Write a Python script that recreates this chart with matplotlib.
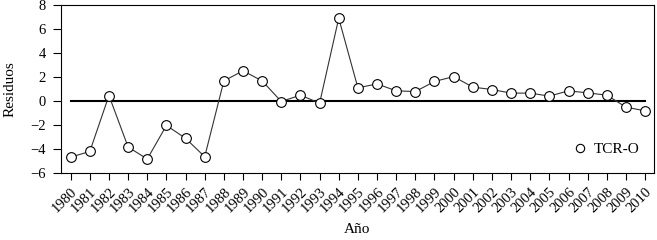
import matplotlib
matplotlib.use("Agg")
from matplotlib import pyplot as plt

plt.rcParams["font.family"] = "Liberation Serif"

years = list(range(1980, 2011))
residuos = [-4.67, -4.2, 0.47, -3.83, -4.83, -2.03, -3.1, -4.64, 1.69, 2.53,
            1.69, -0.03, 0.5, -0.17, 6.92, 1.11, 1.44, 0.86, 0.8, 1.64,
            2.05, 1.17, 0.97, 0.67, 0.67, 0.42, 0.86, 0.69, 0.5, -0.5,
            -0.81]

fig = plt.figure(figsize=(6.57, 2.4), dpi=100)
ax = fig.add_axes([0.093, 0.279, 0.902, 0.699])

ax.plot([years[0], years[-1]], [0, 0], color="black", lw=1.5, zorder=1)
ax.plot(years, residuos, color="#333333", lw=0.8, marker="o", markersize=7,
        markerfacecolor="white", markeredgecolor="black", markeredgewidth=0.8,
        label="TCR-O", zorder=2)

ax.set_xlim(1979.5, 2010.45)
ax.set_ylim(-6, 8)
ax.set_yticks(range(-6, 9, 2))
ax.set_yticklabels(["\u22126", "\u22124", "\u22122", "0", "2", "4", "6", "8"])
ax.set_xticks(years)
ax.set_xticklabels([str(y) for y in years], rotation=45, ha="right",
                   rotation_mode="anchor")
ax.tick_params(axis="both", labelsize=10.5, direction="out", width=0.8)
ax.tick_params(axis="y", length=6, pad=5)
ax.tick_params(axis="x", length=5, pad=4)
ax.set_ylabel("Residuos", fontsize=11, labelpad=10)
ax.set_xlabel("Año", fontsize=11, labelpad=5)

leg = ax.legend(loc="lower right", frameon=False, fontsize=11, handlelength=1,
                handletextpad=0.4, bbox_to_anchor=(1.0, 0.02))
leg.get_lines()[0].set_linestyle("none")
leg.get_lines()[0].set_markersize(6)

fig.savefig("out.png", dpi=100)
